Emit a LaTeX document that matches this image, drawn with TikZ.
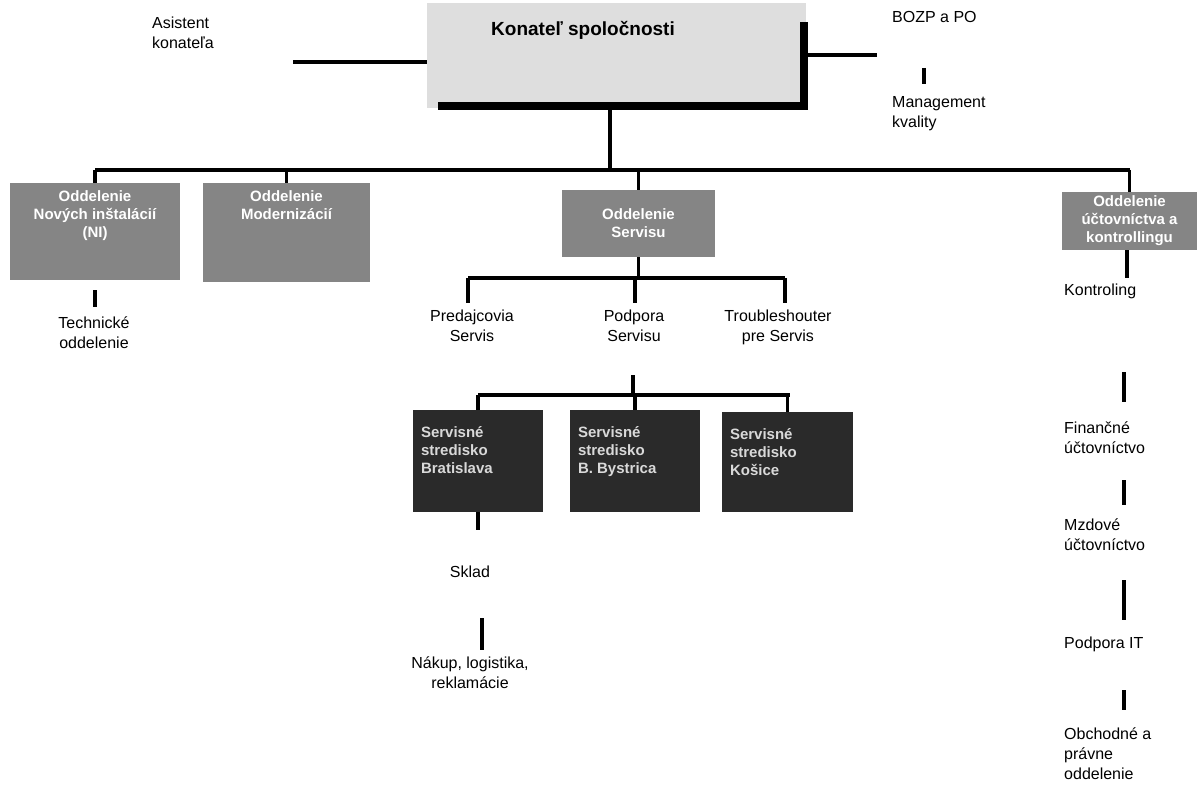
\documentclass[tikz,border=0pt]{standalone}
\usepackage{fontspec}
\setmainfont{Liberation Sans}
\usetikzlibrary{positioning}
\definecolor{orgTop}{HTML}{DEDEDE}
\definecolor{orgMid}{HTML}{858585}
\definecolor{orgDark}{HTML}{2A2A2A}
\tikzset{
  orgtext/.style={inner sep=1pt, font=\fontsize{16}{20}\selectfont, align=left},
  topbox/.style={fill=orgTop, inner sep=0pt},
  deptbox/.style={fill=orgMid, inner sep=0pt},
  unitbox/.style={fill=orgDark, inner sep=0pt},
  boxtext/.style={inner sep=0pt, text=white, font=\fontsize{15}{18}\selectfont\bfseries, align=center},
  unittext/.style={boxtext, text=white!85!black, align=left},
  titletext/.style={inner sep=0pt, font=\fontsize{19}{23}\selectfont\bfseries},
  orgline/.style={line width=3.5pt, black},
  busline/.style={line width=4.5pt, black}
}
\begin{document}
\begin{tikzpicture}[x=1pt, y=-1pt]
  \useasboundingbox (0,0) rectangle (1197,789);
  % vedenie
  \node[topbox, minimum width=379, minimum height=105] (ceo) at (616.5,55.5) {};
  \fill (438,102) rectangle (808,110);
  \fill (800,22) rectangle (808,110);
  \node[titletext] (ceotitle) at (583,30) {Konateľ spoločnosti};
  \node[orgtext, anchor=north west] (asist) at (151,16) {Asistent\\konateľa};
  \node[orgtext, anchor=west] (bozp) at (891,17) {BOZP a PO};
  \node[orgtext, anchor=north west] (qm) at (891,95) {Management\\kvality};
  \coordinate (asistend) at (293,62);
  \coordinate (bozpend) at (877,55);
  \draw[orgline] (asistend) -- (asistend -| ceo.west);
  \draw[orgline] (bozpend -| ceo.east) -- (bozpend);
  \draw[orgline] (924,68) -- ++(0,16);
  % oddelenia
  \node[deptbox, minimum width=170, minimum height=97] (ni) at (95,231.5) {};
  \node[deptbox, minimum width=167, minimum height=99] (moder) at (286.5,232.5) {};
  \node[deptbox, minimum width=153, minimum height=67] (serv) at (638.5,223.5) {};
  \node[deptbox, minimum width=135, minimum height=58] (uct) at (1129.5,221) {};
  \node[boxtext, below=8pt of ni.north] (nitext) {Oddelenie\\Nových inštalácií\\(NI)};
  \node[boxtext, below=8pt of moder.north] (modertext) {Oddelenie\\Modernizácií};
  \node[boxtext] (servtext) at (serv) {Oddelenie\\Servisu};
  \node[boxtext] (ucttext) at (uct) {Oddelenie\\účtovníctva a\\kontrollingu};
  \coordinate (trunk) at (610,170);
  \draw[orgline] (ceo.south -| trunk) -- (trunk);
  \draw[busline] (ni.north |- trunk) -- (uct.north |- trunk);
  \foreach \d in {ni, moder, serv, uct}
    \draw[orgline] (\d.north |- trunk) -- (\d.north);
  % NI
  \draw[orgline] (95,290) -- ++(0,17);
  \node[orgtext, align=center, anchor=north] (tech) at (94,316) {Technické\\oddelenie};
  % servis
  \coordinate (servbus) at (638.5,278);
  \draw[orgline] (serv.south) -- (servbus);
  \draw[orgline] (468,278) -- (785,278);
  \node[orgtext, align=center, anchor=north] (pred) at (472,309) {Predajcovia\\Servis};
  \node[orgtext, align=center, anchor=north] (podp) at (634,309) {Podpora\\Servisu};
  \node[orgtext, align=center, anchor=north] (troub) at (778,309) {Troubleshouter\\pre Servis};
  \foreach \x in {468, 635, 785}
    \draw[orgline] (\x,278) -- (\x,303);
  \draw[orgline] (633,375) -- (633,395);
  \coordinate (unitbus) at (633,395);
  \draw[orgline] (478,395) -- (790,395);
  % strediska
  \node[unitbox, minimum width=130, minimum height=102] (ba) at (478,461) {};
  \node[unitbox, minimum width=130, minimum height=102] (bb) at (635,461) {};
  \node[unitbox, minimum width=131, minimum height=100] (ke) at (787.5,462) {};
  \foreach \u/\mesto in {ba/Bratislava, bb/B. Bystrica, ke/Košice}{
    \draw[orgline] (\u.north |- unitbus) -- (\u.north);
    \node[unittext, anchor=north west] (\u text) at ([xshift=8pt, yshift=-16pt]\u.north west) {Servisné\\stredisko\\\mesto};
  }
  \draw[orgline] (ba.south) -- ++(0,18);
  \node[orgtext] (sklad) at (470,572) {Sklad};
  \draw[orgline] (482,618) -- ++(0,32);
  \node[orgtext, align=center, anchor=north] (nakup) at (470,656) {Nákup, logistika,\\reklamácie};
  % uctovnictvo
  \coordinate (uctend) at (1127,278);
  \draw[orgline] (uct.south -| uctend) -- (uctend);
  \foreach \y/\n/\txt in {283/kontr/Kontroling, 421/fin/{Finančné\\účtovníctvo}, 518/mzd/{Mzdové\\účtovníctvo}, 636/it/Podpora IT, 727/obch/{Obchodné a\\právne\\oddelenie}}
    \node[orgtext, anchor=north west] (\n) at (1063,\y) {\txt};
  \foreach \y/\len in {372/30, 480/25, 580/40, 690/20}
    \draw[orgline] (1124,\y) -- ++(0,\len);
\end{tikzpicture}
\end{document}
